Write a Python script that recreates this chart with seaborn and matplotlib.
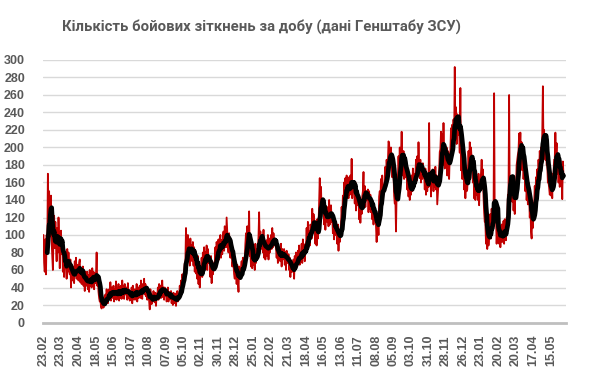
import numpy as np
import pandas as pd
import matplotlib
matplotlib.use("Agg")
import matplotlib.pyplot as plt
import seaborn as sns

# Кількість бойових зіткнень за добу, з 23.02.2023 (по тижнях, 7 значень у рядку)
clashes = [
    100, 68, 58, 95, 55, 100, 82,
    170, 128, 150, 98, 135, 145, 92,
    75, 60, 100, 122, 85, 115, 90,
    70, 108, 80, 120, 95, 62, 100,
    105, 78, 92, 58, 72, 52, 78,
    62, 78, 50, 84, 58, 80, 62,
    55, 72, 40, 66, 48, 64, 52,
    45, 70, 55, 74, 50, 66, 56,
    48, 68, 72, 46, 62, 44, 58,
    64, 42, 55, 36, 58, 44, 42,
    58, 38, 54, 35, 60, 42, 55,
    40, 62, 45, 58, 38, 56, 45,
    55, 80, 42, 50, 35, 28, 24,
    26, 18, 16, 24, 28, 17, 25,
    20, 32, 24, 38, 26, 22, 35,
    38, 27, 46, 25, 40, 28, 34,
    42, 24, 38, 27, 47, 26, 36,
    30, 44, 25, 40, 28, 42, 27,
    48, 30, 42, 27, 44, 32, 34,
    40, 26, 45, 28, 37, 25, 33,
    27, 40, 22, 42, 30, 26, 38,
    36, 26, 44, 24, 40, 28, 34,
    42, 28, 48, 33, 27, 44, 35,
    50, 32, 44, 30, 41, 26, 35,
    34, 25, 15, 38, 28, 21, 31,
    26, 36, 24, 23, 34, 19, 32,
    30, 40, 26, 44, 32, 42, 28,
    42, 48, 29, 40, 26, 40, 31,
    37, 24, 33, 40, 24, 35, 27,
    27, 36, 22, 33, 20, 34, 25,
    22, 33, 19, 30, 36, 24, 31,
    28, 42, 33, 48, 38, 55, 50,
    55, 60, 68, 70, 108, 78, 70,
    100, 72, 92, 65, 96, 76, 88,
    70, 92, 65, 86, 58, 82, 56,
    70, 50, 76, 44, 66, 40, 55,
    58, 74, 52, 80, 62, 86, 70,
    80, 62, 88, 60, 84, 68, 70,
    70, 52, 76, 45, 70, 55, 62,
    68, 60, 86, 64, 92, 74, 90,
    95, 72, 92, 100, 74, 94, 78,
    96, 104, 82, 110, 92, 86, 120,
    105, 88, 80, 102, 84, 74, 90,
    84, 64, 70, 66, 55, 50, 68,
    62, 44, 66, 48, 35, 64, 52,
    50, 62, 70, 56, 74, 58, 68,
    72, 90, 102, 85, 110, 92, 100,
    127, 76, 80, 64, 86, 62, 78,
    66, 82, 60, 90, 68, 84, 72,
    85, 98, 126, 86, 104, 84, 96,
    96, 80, 106, 74, 92, 72, 88,
    94, 76, 100, 72, 96, 80, 90,
    100, 84, 108, 86, 102, 88, 94,
    90, 86, 74, 86, 68, 84, 72,
    86, 70, 90, 64, 84, 72, 80,
    84, 66, 80, 60, 82, 68, 70,
    78, 60, 74, 52, 70, 58, 62,
    58, 72, 50, 76, 62, 80, 70,
    64, 82, 68, 88, 66, 80, 72,
    90, 68, 95, 74, 88, 70, 90,
    86, 108, 84, 115, 92, 104, 88,
    112, 110, 96, 130, 108, 124, 118,
    114, 90, 108, 88, 118, 96, 110,
    140, 165, 132, 155, 126, 130, 135,
    130, 112, 136, 106, 130, 116, 115,
    132, 110, 140, 112, 128, 134, 115,
    122, 102, 120, 95, 116, 100, 113,
    106, 90, 112, 82, 104, 92, 107,
    112, 132, 116, 145, 130, 160, 148,
    165, 140, 168, 145, 162, 142, 166,
    146, 168, 150, 187, 142, 162, 155,
    156, 136, 160, 128, 152, 134, 149,
    142, 118, 140, 114, 134, 124, 144,
    150, 172, 134, 156, 132, 150, 140,
    146, 152, 126, 150, 130, 146, 126,
    140, 118, 136, 112, 132, 118, 128,
    110, 92, 114, 120, 100, 144, 150,
    140, 164, 134, 168, 146, 150, 156,
    160, 178, 154, 186, 166, 182, 207,
    205, 184, 190, 200, 174, 166, 186,
    170, 145, 136, 140, 104, 148, 150,
    164, 190, 172, 200, 176, 192, 218,
    190, 168, 196, 164, 186, 166, 182,
    170, 152, 176, 144, 164, 140, 154,
    146, 168, 150, 176, 154, 170, 156,
    168, 186, 162, 190, 172, 206, 180,
    165, 186, 160, 180, 164, 182, 170,
    170, 152, 176, 146, 166, 150, 162,
    155, 228, 156, 170, 144, 172, 165,
    175, 150, 170, 155, 178, 152, 168,
    135, 148, 162, 172, 195, 198, 218,
    192, 215, 180, 228, 186, 176, 200,
    180, 200, 168, 196, 176, 164, 192,
    196, 222, 186, 226, 200, 232, 210,
    292, 220, 246, 204, 238, 214, 232,
    220, 194, 268, 174, 198, 164, 180,
    176, 152, 180, 142, 170, 150, 152,
    170, 196, 176, 206, 180, 200, 186,
    180, 160, 176, 142, 166, 140, 158,
    146, 166, 140, 170, 134, 160, 156,
    170, 186, 166, 175, 144, 126, 115,
    114, 90, 104, 84, 110, 88, 100,
    106, 124, 96, 130, 108, 126, 110,
    262, 115, 118, 120, 90, 110, 96,
    115, 90, 110, 86, 104, 112, 92,
    96, 116, 90, 118, 100, 94, 120,
    120, 146, 145, 260, 140, 166, 145,
    162, 138, 156, 128, 146, 124, 150,
    155, 180, 186, 192, 196, 216, 200,
    217, 190, 206, 174, 196, 164, 180,
    170, 150, 166, 140, 156, 135, 160,
    146, 120, 136, 104, 96, 126, 108,
    136, 134, 156, 140, 166, 150, 175,
    160, 186, 170, 196, 180, 200, 196,
    216, 270, 200, 220, 194, 186, 210,
    180, 180, 160, 160, 154, 146, 150,
    145, 164, 142, 170, 170, 186, 186,
    217, 190, 205, 170, 190, 160, 176,
    155, 185, 160, 180, 141, 184, 168,
]

# підписи осі X (кожні 28 днів)
date_labels = ["23.02", "23.03", "20.04", "18.05", "15.06", "13.07", "10.08",
               "07.09", "05.10", "02.11", "30.11", "28.12", "25.01", "22.02",
               "21.03", "18.04", "16.05", "13.06", "11.07", "08.08", "05.09",
               "03.10", "31.10", "28.11", "26.12", "23.01", "20.02", "20.03",
               "17.04", "15.05"]
y_ticks = list(range(0, 301, 20))

title = "Кількість бойових зіткнень за добу (дані Генштабу ЗСУ)"

df = pd.DataFrame({"day": np.arange(len(clashes)), "clashes": clashes})
df["avg7"] = df["clashes"].rolling(7).mean()

sns.set_style("white")
plt.rcParams["font.family"] = ["Liberation Sans", "DejaVu Sans"]

fig = plt.figure(figsize=(5.9, 3.75), dpi=100)
ax = fig.add_axes([43 / 590, 1 - 322.5 / 375, 523 / 590, 262.5 / 375])

sns.lineplot(data=df, x="day", y="clashes", color="#C00000", lw=1.3, ax=ax)
sns.lineplot(data=df, x="day", y="avg7", color="black", lw=3.4, ax=ax)

ax.set_xlim(-0.8, 836)
ax.set_ylim(0, 300)
ax.set_yticks(y_ticks)
ax.set_xticks(np.arange(len(date_labels)) * 28)
ax.set_xticklabels(date_labels, rotation=90)
ax.set_xticks(np.arange(0, 836, 7), minor=True)
ax.set_xlabel("")
ax.set_ylabel("")

ax.grid(axis="y", color="#D9D9D9", lw=1)
ax.grid(axis="x", visible=False)
ax.set_axisbelow(True)
for side in ["top", "right", "left"]:
    ax.spines[side].set_visible(False)
ax.spines["bottom"].set_color("#BFBFBF")
ax.spines["bottom"].set_linewidth(2)

ax.tick_params(axis="y", length=0, pad=13, labelsize=9, labelcolor="#595959")
ax.tick_params(axis="x", which="major", direction="in", length=5, width=1,
               color="#BFBFBF", pad=9, labelsize=9, labelcolor="#595959")
ax.tick_params(axis="x", which="minor", direction="in", length=3, width=1,
               color="#BFBFBF")
for lbl in ax.get_xticklabels() + ax.get_yticklabels():
    lbl.set_fontweight("bold")

fig.text(261 / 590, 1 - 27 / 375, title, ha="center", va="center",
         fontsize=10.7, fontweight="bold", color="#595959",
         family=["Roboto", "DejaVu Sans"])

fig.savefig("out.png", dpi=100)
